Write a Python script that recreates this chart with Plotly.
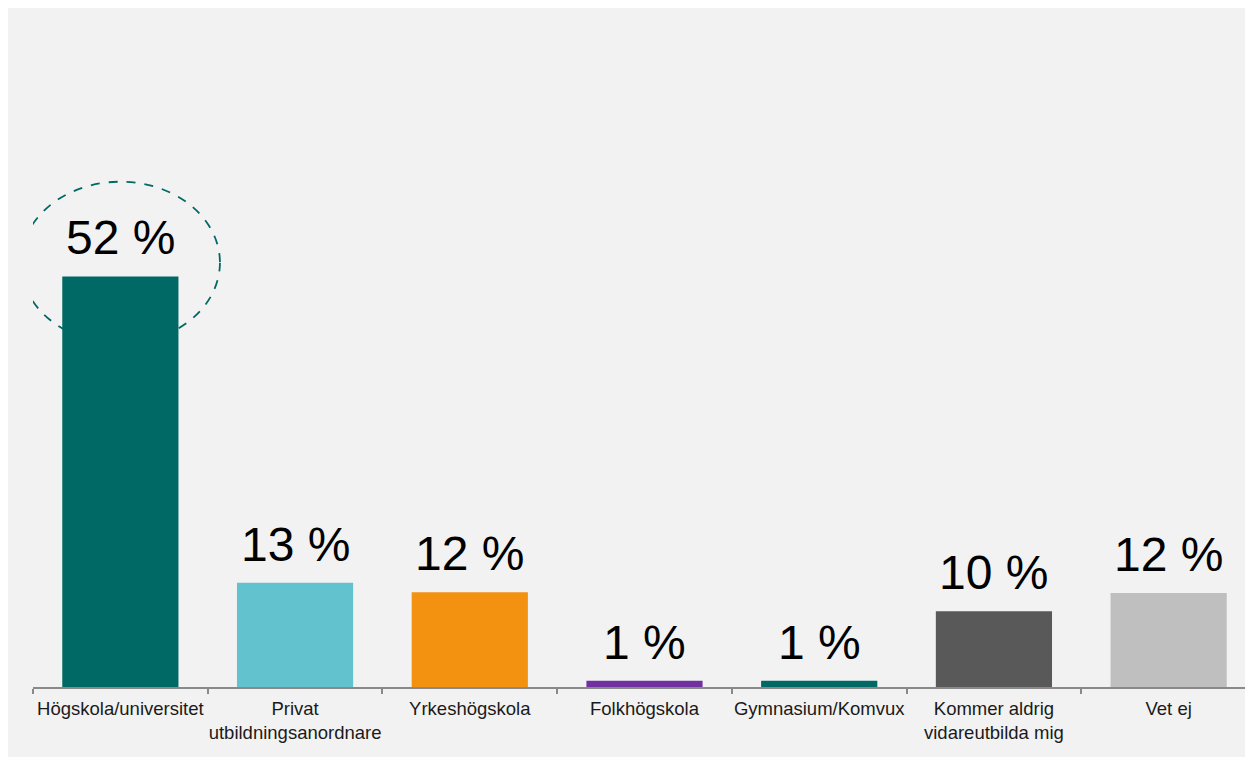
import plotly.graph_objects as go

categories = ["Högskola/universitet", "Privat<br>utbildningsanordnare", "Yrkeshögskola",
              "Folkhögskola", "Gymnasium/Komvux", "Kommer aldrig<br>vidareutbilda mig", "Vet ej"]
values = [52.0, 13.2, 12.0, 0.8, 0.8, 9.6, 11.9]
colors = ["#006865", "#62c3cf", "#f39110", "#7030a0", "#006966", "#595959", "#bfbfbf"]

fig = go.Figure()
fig.add_trace(go.Bar(x=categories, y=values, marker=dict(color=colors, line=dict(width=0)),
                     width=0.665, hoverinfo="skip"))

for c, v in zip(categories, values):
    fig.add_annotation(x=c, y=v, text=f"{round(v)} %", showarrow=False, yanchor="bottom",
                       yshift=10, font=dict(family="Liberation Sans, Arial", size=48, color="#000000"))

# dashed ellipse highlighting the first bar
fig.add_shape(type="circle", xref="x", yref="y", x0=-0.57, x1=0.57,
              y0=values[0] - 8.5, y1=values[0] + 12.0, layer="below",
              line=dict(color="#006865", width=1.8, dash="dash"))

fig.update_layout(
    width=1253, height=757,
    margin=dict(l=25, r=5, t=0, b=78),
    paper_bgcolor="#f2f2f2", plot_bgcolor="#f2f2f2",
    showlegend=False, bargap=0.335,
    xaxis=dict(showline=True, linecolor="#898989", linewidth=2, ticks="outside", tickson="boundaries",
               ticklen=5, tickwidth=2, tickcolor="#898989", showgrid=False, ticklabelstandoff=4,
               tickangle=0, automargin=False, range=[-0.5, len(categories) - 0.5],
               tickfont=dict(family="Liberation Sans, Arial", size=18.5, color="#1a1a1a")),
    yaxis=dict(visible=False, range=[0, 86], showgrid=False, zeroline=False),
)

fig.write_html("out.html")
